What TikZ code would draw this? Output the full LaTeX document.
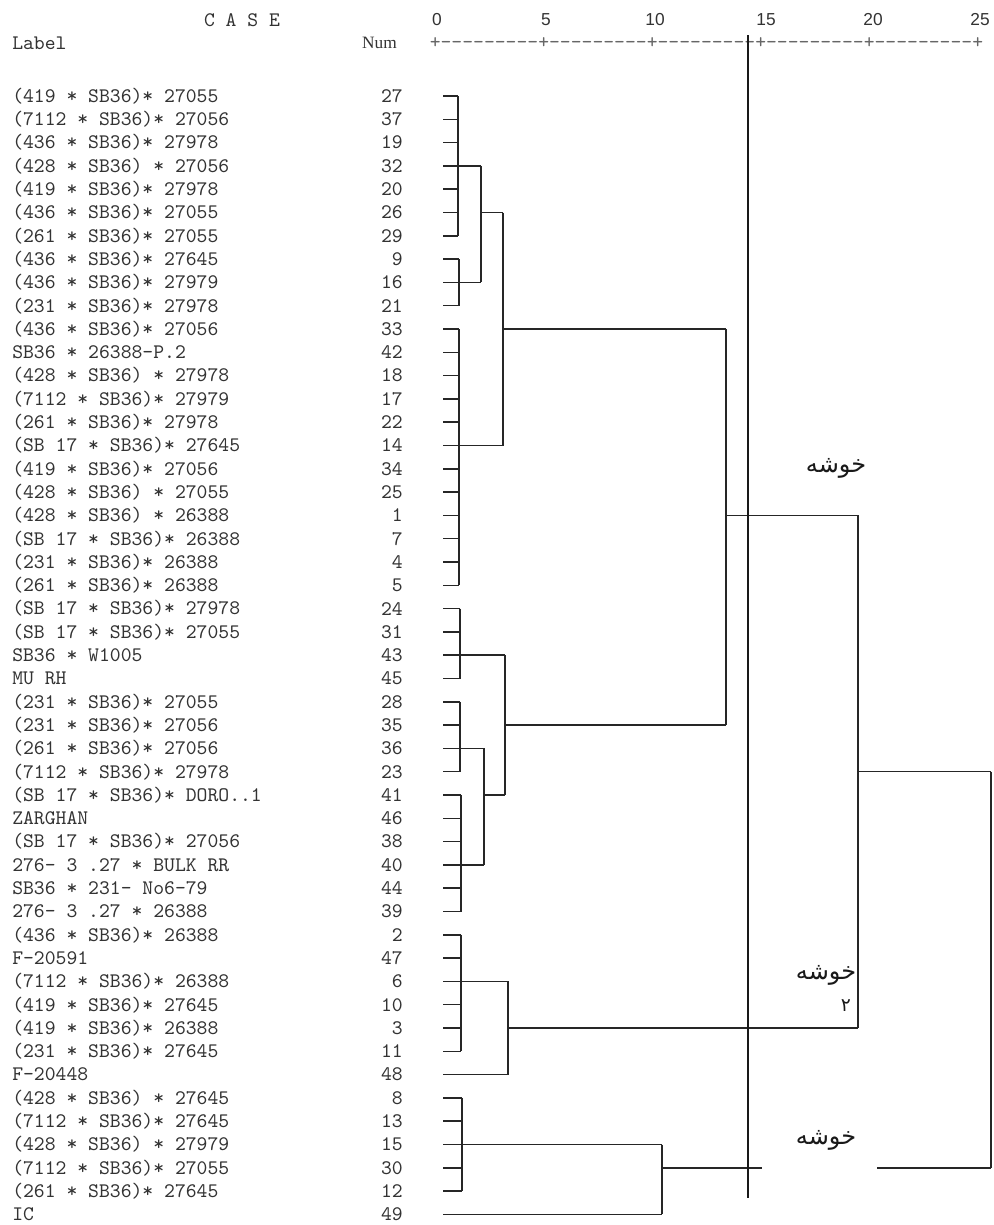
\documentclass[tikz,border=0pt]{standalone}
\usepackage{fontspec}
\newfontfamily\courfont{lmmono10-regular.otf}
\newfontfamily\arabicfont[Script=Arabic]{DejaVu Sans}
\newfontfamily\axisnumfont{Liberation Sans}
\newfontfamily\numheadfont{Liberation Serif}
\TeXXeTstate=1
\newcommand\labfont{\courfont\fontsize{15.5pt}{18pt}\selectfont}
\newcommand\leafrow[3]{%
  \node[lab] (L#1) at (12,{96+23.3*#1}) {#2};
  \node[num] (N#1) at (403,{96+23.3*#1}) {#3};
  \coordinate (r#1) at (443,{96+23.3*#1});}
\newcommand\clus[3]{%
  \foreach \k in {#2,...,#3} {\draw[dl] (r\k) -- (r\k -| #1);}
  \draw[dl] (#1 |- r#2) -- (#1 |- r#3);}
\tikzset{
  dl/.style={line width=1.1pt, draw=black!85},
  cutline/.style={line width=1.9pt, draw=black!90},
  lab/.style={anchor=west, font=\labfont, inner sep=0pt, text=black!80},
  num/.style={anchor=east, font=\labfont, inner sep=0pt, text=black!80},
  axisnum/.style={font=\axisnumfont\fontsize{13pt}{15pt}\selectfont, inner sep=0pt, text=black!80},
  fa/.style={font=\arabicfont\fontsize{18pt}{21pt}\selectfont, inner sep=0pt, text=black!90}
}
\begin{document}
\begin{tikzpicture}[x=0.75pt,y=-0.75pt]
\useasboundingbox (0,0) rectangle (994,1225);
\fill[white] (0,0) rectangle (994,1225);
% header
\node[font=\labfont, inner sep=0pt, text=black!80] (case) at (242,20) {C A S E};
\node[lab] (label) at (12,43) {Label};
\node[anchor=east, font=\numheadfont\fontsize{13pt}{15pt}\selectfont, inner sep=0pt, text=black!80] (numh) at (397,43) {Num};
\node[anchor=west, font=\labfont, inner sep=0pt, text=black!60] (axis) at (429.5,43) {+---------+---------+---------+---------+---------+};
\node[axisnum] (t0) at (437,20) {0};
\node[axisnum] (t5) at (546,20) {5};
\node[axisnum] (t10) at (655,20) {10};
\node[axisnum] (t15) at (766,20) {15};
\node[axisnum] (t20) at (873,20) {20};
\node[axisnum] (t25) at (980,20) {25};
% rows
\leafrow{0}{(419 * SB36)* 27055}{27}
\leafrow{1}{(7112 * SB36)* 27056}{37}
\leafrow{2}{(436 * SB36)* 27978}{19}
\leafrow{3}{(428 * SB36) * 27056}{32}
\leafrow{4}{(419 * SB36)* 27978}{20}
\leafrow{5}{(436 * SB36)* 27055}{26}
\leafrow{6}{(261 * SB36)* 27055}{29}
\leafrow{7}{(436 * SB36)* 27645}{9}
\leafrow{8}{(436 * SB36)* 27979}{16}
\leafrow{9}{(231 * SB36)* 27978}{21}
\leafrow{10}{(436 * SB36)* 27056}{33}
\leafrow{11}{SB36 * 26388-P.2}{42}
\leafrow{12}{(428 * SB36) * 27978}{18}
\leafrow{13}{(7112 * SB36)* 27979}{17}
\leafrow{14}{(261 * SB36)* 27978}{22}
\leafrow{15}{(SB 17 * SB36)* 27645}{14}
\leafrow{16}{(419 * SB36)* 27056}{34}
\leafrow{17}{(428 * SB36) * 27055}{25}
\leafrow{18}{(428 * SB36) * 26388}{1}
\leafrow{19}{(SB 17 * SB36)* 26388}{7}
\leafrow{20}{(231 * SB36)* 26388}{4}
\leafrow{21}{(261 * SB36)* 26388}{5}
\leafrow{22}{(SB 17 * SB36)* 27978}{24}
\leafrow{23}{(SB 17 * SB36)* 27055}{31}
\leafrow{24}{SB36 * W1005}{43}
\leafrow{25}{MU RH}{45}
\leafrow{26}{(231 * SB36)* 27055}{28}
\leafrow{27}{(231 * SB36)* 27056}{35}
\leafrow{28}{(261 * SB36)* 27056}{36}
\leafrow{29}{(7112 * SB36)* 27978}{23}
\leafrow{30}{(SB 17 * SB36)* DORO..1}{41}
\leafrow{31}{ZARGHAN}{46}
\leafrow{32}{(SB 17 * SB36)* 27056}{38}
\leafrow{33}{276- 3 .27 * BULK RR}{40}
\leafrow{34}{SB36 * 231- No6-79}{44}
\leafrow{35}{276- 3 .27 * 26388}{39}
\leafrow{36}{(436 * SB36)* 26388}{2}
\leafrow{37}{F-20591}{47}
\leafrow{38}{(7112 * SB36)* 26388}{6}
\leafrow{39}{(419 * SB36)* 27645}{10}
\leafrow{40}{(419 * SB36)* 26388}{3}
\leafrow{41}{(231 * SB36)* 27645}{11}
\leafrow{42}{F-20448}{48}
\leafrow{43}{(428 * SB36) * 27645}{8}
\leafrow{44}{(7112 * SB36)* 27645}{13}
\leafrow{45}{(428 * SB36) * 27979}{15}
\leafrow{46}{(7112 * SB36)* 27055}{30}
\leafrow{47}{(261 * SB36)* 27645}{12}
\leafrow{48}{IC}{49}
% vertical positions of the joins
\coordinate (vA) at (458,0);
\coordinate (vB) at (459,0);
\coordinate (vAB) at (481,0);
\coordinate (vC) at (459,0);
\coordinate (vABC) at (503,0);
\coordinate (vD) at (460,0);
\coordinate (vE) at (460,0);
\coordinate (vF) at (461,0);
\coordinate (vEF) at (484,0);
\coordinate (vDEF) at (505,0);
\coordinate (vL) at (726,0);
\coordinate (vG) at (461,0);
\coordinate (vGH) at (508,0);
\coordinate (vT) at (858,0);
\coordinate (vI) at (462,0);
\coordinate (vIJ) at (662,0);
\coordinate (vR) at (991,0);
\coordinate (gapA) at (762,0);
\coordinate (gapB) at (877,0);
% clusters of leaves
\clus{vA}{0}{6}
\clus{vB}{7}{9}
\clus{vC}{10}{21}
\clus{vD}{22}{25}
\clus{vE}{26}{29}
\clus{vF}{30}{35}
\clus{vG}{36}{41}
\clus{vI}{43}{47}
% joins
\draw[dl] (vA |- r3) -- (vAB |- r3);
\draw[dl] (vB |- r8) -- (vAB |- r8);
\draw[dl] (vAB |- r3) -- (vAB |- r8);
\draw[dl] (vAB |- r5) -- (vABC |- r5);
\draw[dl] (vC |- r15) -- (vABC |- r15);
\draw[dl] (vABC |- r5) -- (vABC |- r15);
\draw[dl] (vABC |- r10) -- (vL |- r10);
\draw[dl] (vD |- r24) -- (vDEF |- r24);
\draw[dl] (vE |- r28) -- (vEF |- r28);
\draw[dl] (vF |- r33) -- (vEF |- r33);
\draw[dl] (vEF |- r28) -- (vEF |- r33);
\draw[dl] (vEF |- r30) -- (vDEF |- r30);
\draw[dl] (vDEF |- r24) -- (vDEF |- r30);
\draw[dl] (vDEF |- r27) -- (vL |- r27);
\draw[dl] (vL |- r10) -- (vL |- r27);
\draw[dl] (vL |- r18) -- (vT |- r18);
\draw[dl] (vG |- r38) -- (vGH |- r38);
\draw[dl] (r42) -- (vGH |- r42);
\draw[dl] (vGH |- r38) -- (vGH |- r42);
\draw[dl] (vGH |- r40) -- (vT |- r40);
\draw[dl] (vT |- r18) -- (vT |- r40);
\draw[dl] (vT |- r29) -- (vR |- r29);
\draw[dl] (vI |- r45) -- (vIJ |- r45);
\draw[dl] (r48) -- (vIJ |- r48);
\draw[dl] (vIJ |- r45) -- (vIJ |- r48);
\draw[dl] (vIJ |- r46) -- (gapA |- r46);
\draw[dl] (gapB |- r46) -- (vR |- r46);
\draw[dl] (vR |- r29) -- (vR |- r46);
% cut line
\coordinate (cutT) at (748,35);
\coordinate (cutB) at (748,1198);
\draw[cutline] (cutT) -- (cutB);
% cluster labels
\node[fa] (k1) at (836,468) {\beginR خوشه\endR};
\node[fa] (k2) at (826,975) {\beginR خوشه\endR};
\node[fa, font=\arabicfont\fontsize{14pt}{16pt}\selectfont] (k2n) at (846,1006) {۲};
\node[fa] (k3) at (826,1140) {\beginR خوشه\endR};
\end{tikzpicture}
\end{document}
